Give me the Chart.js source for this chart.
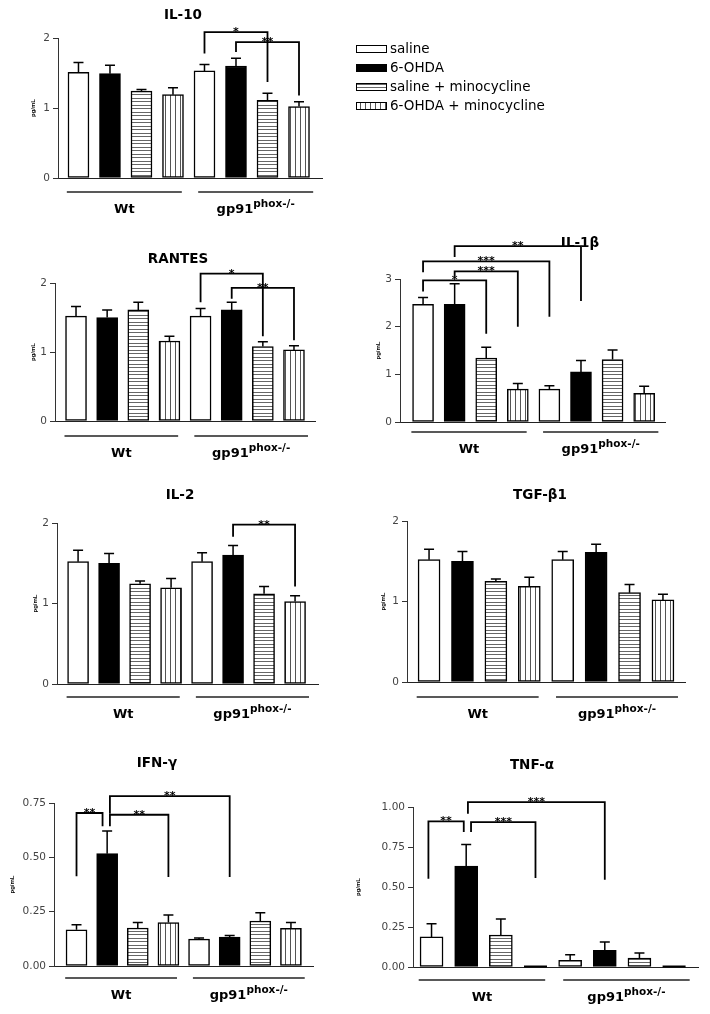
<!DOCTYPE html>
<html>
<head>
<meta charset="utf-8">
<script src="https://cdn.jsdelivr.net/npm/chart.js@4.4.0/dist/chart.umd.min.js"></script>
<style>
  html, body { margin: 0; padding: 0; background: #fff; }
  #page { position: relative; width: 710px; height: 1014px; overflow: hidden; }
  #page canvas { position: absolute; left: 0; top: 0; }
</style>
</head>
<body>
<div id="page"></div>
<script>
const treatments = ["saline", "6-OHDA", "saline + minocycline", "6-OHDA + minocycline"];
const groupLabels = ["Wt", "gp91"];
const groupSup = "phox-/-";

// order: Wt x4 treatments, then gp91phox-/- x4 treatments
const il10Mean = [1.51, 1.49, 1.24, 1.19, 1.53, 1.60, 1.11, 1.02];
const il10Sem = [0.14, 0.12, 0.025, 0.10, 0.09, 0.11, 0.10, 0.07];
const rantesMean = [1.52, 1.50, 1.61, 1.16, 1.52, 1.61, 1.08, 1.03];
const rantesSem = [0.14, 0.11, 0.11, 0.07, 0.11, 0.11, 0.07, 0.06];
const il1bMean = [2.47, 2.47, 1.34, 0.69, 0.69, 1.05, 1.31, 0.60];
const il1bSem = [0.14, 0.43, 0.23, 0.12, 0.07, 0.24, 0.20, 0.15];
const il2Mean = [1.52, 1.50, 1.245, 1.195, 1.52, 1.60, 1.12, 1.025];
const il2Sem = [0.14, 0.12, 0.035, 0.115, 0.11, 0.12, 0.09, 0.07];
const tgfMean = [1.52, 1.50, 1.25, 1.19, 1.52, 1.61, 1.11, 1.02];
const tgfSem = [0.13, 0.12, 0.03, 0.11, 0.10, 0.10, 0.10, 0.07];
const ifnMean = [0.167, 0.517, 0.175, 0.200, 0.124, 0.133, 0.207, 0.173];
const ifnSem = [0.023, 0.104, 0.025, 0.035, 0.005, 0.007, 0.038, 0.027];
const tnfMean = [0.188, 0.63, 0.20, 0, 0.042, 0.104, 0.056, 0];
const tnfSem = [0.082, 0.135, 0.10, 0, 0.035, 0.052, 0.032, 0];

// significance brackets: [from bar, to bar, top value, left leg end, right leg end, label]
const il10Sig = [[4, 6, 2.085, 1.78, 1.37, "*"], [5, 7, 1.94, 1.80, 1.18, "**"]];
const rantesSig = [[4, 6, 2.135, 1.72, 1.23, "*"], [5, 7, 1.93, 1.77, 1.17, "**"]];
const il1bSig = [[0, 2, 2.97, 2.74, 1.85, "*"], [1, 3, 3.16, 3.05, 2.0, "***"],
                 [0, 4, 3.37, 3.14, 2.21, "***"], [1, 5, 3.69, 3.46, 2.54, "**"]];
const il2Sig = [[5, 7, 1.98, 1.83, 1.21, "**"]];
const tgfSig = [];
const ifnSig = [[0, 0.85, 0.704, 0.413, 0.643, "**"], [1.09, 3, 0.696, 0.643, 0.41, "**"],
                [1.09, 5, 0.782, 0.70, 0.41, "**"]];
const tnfSig = [[-0.09, 0.93, 0.91, 0.552, 0.844, "**"], [1.14, 3, 0.906, 0.844, 0.556, "***"],
                [1.05, 5, 1.03, 0.958, 0.546, "***"]];

const FONT = "'DejaVu Sans', sans-serif";
const page = document.getElementById("page");

function stripePattern(vertical) {
  const c = document.createElement("canvas");
  const g = c.getContext("2d");
  if (vertical) {
    c.width = 5; c.height = 5;
    g.fillStyle = "#fff"; g.fillRect(0, 0, 5, 5);
    g.fillStyle = "#555"; g.fillRect(0, 0, 1, 5);
  } else {
    c.width = 7; c.height = 7;
    g.fillStyle = "#fff"; g.fillRect(0, 0, 7, 7);
    g.fillStyle = "#666"; g.fillRect(0, 0, 7, 1); g.fillRect(0, 3, 7, 1);
  }
  return g.createPattern(c, "repeat");
}
const fills = ["#ffffff", "#000000", stripePattern(false), stripePattern(true)];

const panels = [
  { title: "IL-10", mean: il10Mean, sem: il10Sem, sig: il10Sig, yMax: 2, step: 1, dec: 0,
    axisX: 58, top: 38, bottom: 178, right: 322, xMin: -0.65, xMax: 7.73, barW: 21,
    titleX: 183, titleY: 15, lineY: 192, yTitleX: 33, legend: true },
  { title: "RANTES", mean: rantesMean, sem: rantesSem, sig: rantesSig, yMax: 2, step: 1, dec: 0,
    axisX: 55, top: 283, bottom: 421, right: 315, xMin: -0.675, xMax: 7.675, barW: 21,
    titleX: 178, titleY: 259, lineY: 436, yTitleX: 33 },
  { title: "IL-1β", mean: il1bMean, sem: il1bSem, sig: il1bSig, yMax: 3, step: 1, dec: 0,
    axisX: 400, top: 279, bottom: 422, right: 665, xMin: -0.73, xMax: 7.66, barW: 21,
    titleX: 580, titleY: 243, lineY: 432, yTitleX: 378 },
  { title: "IL-2", mean: il2Mean, sem: il2Sem, sig: il2Sig, yMax: 2, step: 1, dec: 0,
    axisX: 57, top: 523, bottom: 684, right: 318, xMin: -0.68, xMax: 7.74, barW: 21,
    titleX: 180, titleY: 495, lineY: 697, yTitleX: 35 },
  { title: "TGF-β1", mean: tgfMean, sem: tgfSem, sig: tgfSig, yMax: 2, step: 1, dec: 0,
    axisX: 407, top: 521, bottom: 682, right: 685, xMin: -0.66, xMax: 7.66, barW: 22,
    titleX: 540, titleY: 495, lineY: 697, yTitleX: 383 },
  { title: "IFN-γ", mean: ifnMean, sem: ifnSem, sig: ifnSig, yMax: 0.75, step: 0.25, dec: 2,
    axisX: 54, top: 803, bottom: 966, right: 313, xMin: -0.735, xMax: 7.72, barW: 21,
    titleX: 157, titleY: 763, lineY: 978, yTitleX: 12 },
  { title: "TNF-α", mean: tnfMean, sem: tnfSem, sig: tnfSig, yMax: 1, step: 0.25, dec: 2,
    axisX: 413, top: 807, bottom: 967, right: 698, xMin: -0.535, xMax: 7.69, barW: 23,
    titleX: 532, titleY: 765, lineY: 980, yTitleX: 358 },
];

// where the group underlines run, in bar-index units
const groupSpans = [[-0.37, 3.28], [3.8, 7.45]];

function makeDecor(p, idx) {
  return {
    id: "decor" + idx,
    afterDatasetsDraw(chart) {
      const ctx = chart.ctx;
      const xs = chart.scales.x;
      const ys = chart.scales.y;
      ctx.save();
      ctx.strokeStyle = "#000";
      ctx.fillStyle = "#000";

      // bars at zero still show as a flat mark on the axis
      ctx.lineWidth = 2;
      p.mean.forEach((m, i) => {
        if (m !== 0) return;
        const x = xs.getPixelForValue(i);
        const y0 = ys.getPixelForValue(0) - 0.5;
        ctx.beginPath();
        ctx.moveTo(x - p.barW / 2, y0);
        ctx.lineTo(x + p.barW / 2, y0);
        ctx.stroke();
      });

      // error bars (upper only)
      ctx.lineWidth = 1.5;
      p.mean.forEach((m, i) => {
        const s = p.sem[i];
        if (!s) return;
        const x = xs.getPixelForValue(i);
        const y0 = ys.getPixelForValue(m);
        const y1 = ys.getPixelForValue(m + s);
        ctx.beginPath();
        ctx.moveTo(x, y0);
        ctx.lineTo(x, y1);
        ctx.moveTo(x - 5, y1);
        ctx.lineTo(x + 5, y1);
        ctx.stroke();
      });

      // significance brackets
      ctx.lineWidth = 1.8;
      ctx.font = "bold 11px " + FONT;
      ctx.textAlign = "center";
      ctx.textBaseline = "alphabetic";
      p.sig.forEach(([a, b, top, lb, rb, lab]) => {
        const xa = xs.getPixelForValue(a);
        const xb = xs.getPixelForValue(b);
        const yt = ys.getPixelForValue(top);
        ctx.beginPath();
        ctx.moveTo(xa, ys.getPixelForValue(lb));
        ctx.lineTo(xa, yt);
        ctx.lineTo(xb, yt);
        ctx.lineTo(xb, ys.getPixelForValue(rb));
        ctx.stroke();
        ctx.fillText(lab, (xa + xb) / 2, yt + 3);
      });

      // group underlines and labels
      ctx.lineWidth = 1.5;
      ctx.strokeStyle = "#222";
      const labY = p.lineY + 21;
      groupSpans.forEach((sp, g) => {
        const x0 = xs.getPixelForValue(sp[0]);
        const x1 = xs.getPixelForValue(sp[1]);
        ctx.beginPath();
        ctx.moveTo(x0, p.lineY);
        ctx.lineTo(x1, p.lineY);
        ctx.stroke();
        const cx = (x0 + x1) / 2;
        ctx.font = "bold 13px " + FONT;
        const w1 = ctx.measureText(groupLabels[g]).width;
        let w2 = 0;
        if (g === 1) {
          ctx.font = "bold 10.5px " + FONT;
          w2 = ctx.measureText(groupSup).width;
        }
        const sx = cx - (w1 + w2) / 2;
        ctx.textAlign = "left";
        ctx.font = "bold 13px " + FONT;
        ctx.fillText(groupLabels[g], sx, labY);
        if (g === 1) {
          ctx.font = "bold 10.5px " + FONT;
          ctx.fillText(groupSup, sx + w1, labY - 6);
        }
      });

      // panel title
      ctx.textAlign = "center";
      ctx.textBaseline = "middle";
      ctx.font = "bold 13.5px " + FONT;
      ctx.fillText(p.title, p.titleX, p.titleY);

      // legend
      if (p.legend) {
        ctx.textAlign = "left";
        ctx.font = "13.5px " + FONT;
        ctx.lineWidth = 1;
        ctx.strokeStyle = "#000";
        chart.data.datasets.forEach((ds, k) => {
          const y = 49 + k * 19;
          ctx.fillStyle = ds.backgroundColor;
          ctx.fillRect(356, y - 3.5, 30, 7);
          ctx.strokeRect(356.5, y - 3.5, 30, 7);
          ctx.fillStyle = "#000";
          ctx.fillText(ds.label, 390, y);
        });
      }
      ctx.restore();
    }
  };
}

panels.forEach((p, idx) => {
  const cv = document.createElement("canvas");
  cv.width = 710;
  cv.height = 1014;
  page.appendChild(cv);

  const yW = p.axisX - p.yTitleX + 3.6;
  const datasets = treatments.map((t, k) => ({
    label: t,
    data: [{ x: k, y: p.mean[k] }, { x: k + 4, y: p.mean[k + 4] }],
    backgroundColor: fills[k],
    borderColor: "#000",
    borderWidth: 1.5,
    borderSkipped: false,
    barThickness: p.barW,
    grouped: false,
  }));

  new Chart(cv, {
    type: "bar",
    data: { datasets },
    options: {
      responsive: false,
      animation: false,
      events: [],
      layout: {
        padding: { left: p.axisX - yW, top: p.top, bottom: 1014 - p.bottom, right: 710 - p.right },
      },
      plugins: { legend: { display: false }, tooltip: { enabled: false } },
      scales: {
        x: {
          type: "linear",
          offset: false,
          min: p.xMin,
          max: p.xMax,
          ticks: { display: false },
          grid: { display: false, offset: false },
          border: { display: true, color: "#222", width: 1 },
          afterFit: (s) => { s.height = 0; },
        },
        y: {
          min: 0,
          max: p.yMax,
          ticks: {
            stepSize: p.step,
            callback: (v) => v.toFixed(p.dec),
            color: "#444",
            padding: 3,
            font: { family: FONT, size: 10.5 },
          },
          grid: { display: true, drawOnChartArea: false, drawTicks: true, tickLength: 5, color: "#333" },
          border: { display: true, color: "#333", width: 1 },
          title: {
            display: true,
            text: "pg/mL",
            color: "#000",
            font: { family: "'Liberation Sans', Arial, sans-serif", size: 6, weight: "bold" },
            padding: { top: 0, bottom: 0 },
          },
          afterFit: (s) => { s.width = yW; },
        },
      },
    },
    plugins: [makeDecor(p, idx)],
  });
});
</script>
</body>
</html>
